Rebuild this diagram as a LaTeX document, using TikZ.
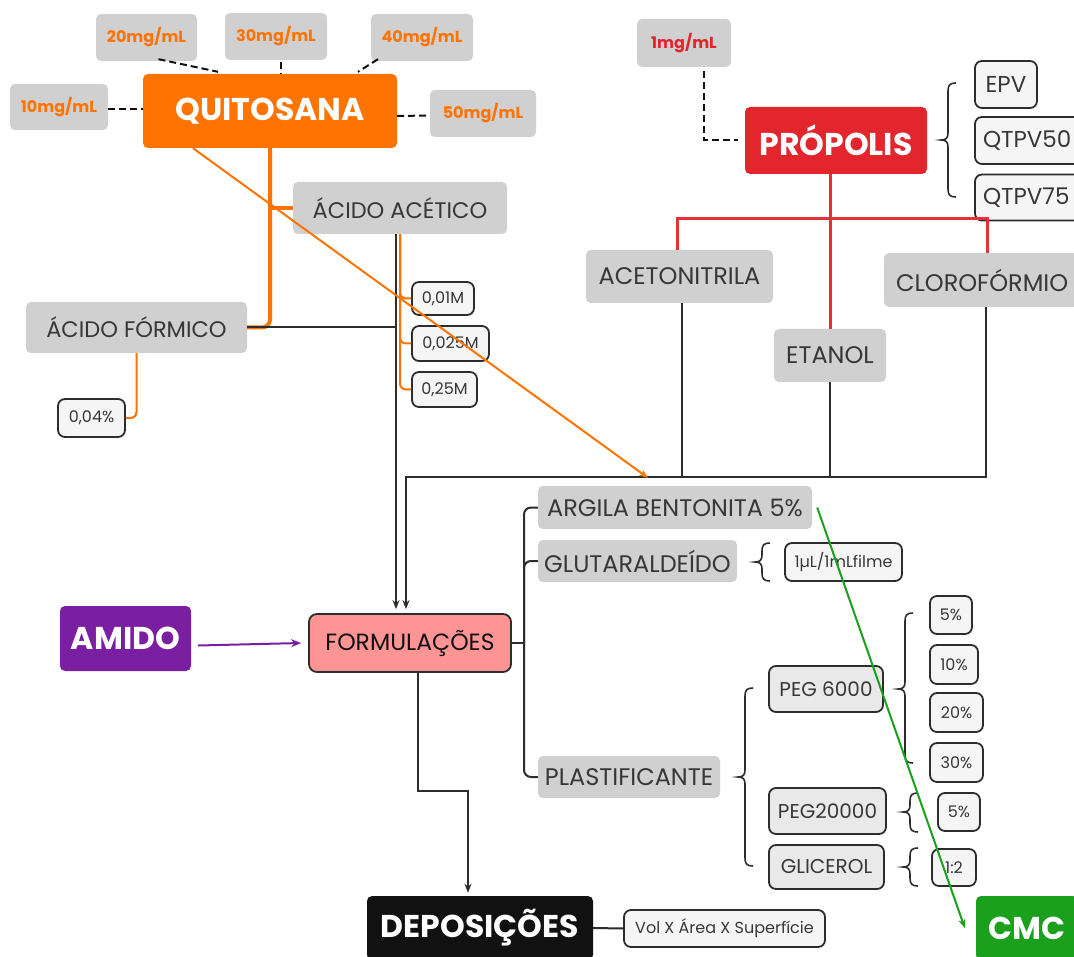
\documentclass[tikz,border=0pt]{standalone}
\usepackage{fontspec}
\setmainfont{Poppins}
\usetikzlibrary{arrows.meta,calc}
\definecolor{qor}{RGB}{255,115,0}
\definecolor{pred}{RGB}{227,38,45}
\definecolor{lred}{RGB}{229,50,56}
\definecolor{ppl}{RGB}{123,31,162}
\definecolor{grn}{RGB}{27,160,30}
\definecolor{salmon}{RGB}{255,148,148}
\definecolor{boxgray}{RGB}{208,208,208}
\definecolor{boxlight}{RGB}{245,245,245}
\definecolor{bordk}{RGB}{45,45,45}
\definecolor{txtgray}{RGB}{55,55,55}
\definecolor{blk}{RGB}{17,17,17}
\tikzset{
  base/.style={rectangle, rounded corners=5pt, inner sep=0pt, anchor=center},
  gbox/.style={base, fill=boxgray, text=txtgray, font=\fontsize{24}{28}\selectfont},
  abox/.style={gbox, font=\fontsize{22.5}{26}\selectfont},
  lbox/.style={base, fill=boxlight, draw=bordk, line width=1.8pt, rounded corners=7pt, text=txtgray, font=\fontsize{16}{19}\selectfont},
  mbox/.style={base, fill=boxlight, draw=bordk, line width=1.8pt, rounded corners=7pt, text=txtgray, font=\fontsize{23}{26}\selectfont},
  pbox/.style={mbox, fill=boxlight!95!black, font=\fontsize{20}{24}\selectfont},
  mgbox/.style={base, fill=boxgray, text=qor, font=\bfseries\fontsize{16}{19}\selectfont},
  big/.style={base, text=white, font=\bfseries\fontsize{31.5}{36}\selectfont},
  dsh/.style={draw=blk, line width=2pt, dash pattern=on 7pt off 4pt},
  orth/.style={draw=qor, line width=4pt},
  ortn/.style={draw=qor, line width=2pt},
  bl/.style={draw=bordk, line width=2pt},
  rl/.style={draw=lred, line width=3pt},
  brc/.style={draw=bordk, line width=1.6pt},
  tip/.style={-{Stealth[length=9pt,width=7pt]}},
}
\newcommand\mybrace[4]{%
\draw[brc] ({#1+8},#2) .. controls ({#1+2},#2) and (#1,{#2+2}) .. (#1,{#2+8}) -- (#1,{#3-7}) .. controls (#1,{#3-2}) and ({#1-2},#3) .. ({#1-7},#3) .. controls ({#1-2},#3) and (#1,{#3+2}) .. (#1,{#3+7}) -- (#1,{#4-8}) .. controls (#1,{#4-2}) and ({#1+2},#4) .. ({#1+8},#4);}
\begin{document}
\begin{tikzpicture}[x=1pt,y=-1pt]
\clip (0,0) rectangle (1074,957);
\fill[white] (0,0) rectangle (1074,957);

% ---------- QUITOSANA cluster
\node[big, fill=qor, minimum width=254pt, minimum height=74pt] (quit) at (270,111) {QUITOSANA};
\node[mgbox, minimum width=98pt, minimum height=46pt] (q10) at (59,107) {10mg/mL};
\node[mgbox, minimum width=101pt, minimum height=47pt] (q20) at (146.5,37.5) {20mg/mL};
\node[mgbox, minimum width=102pt, minimum height=47pt] (q30) at (276,36.5) {30mg/mL};
\node[mgbox, minimum width=102pt, minimum height=47pt] (q40) at (422,37.5) {40mg/mL};
\node[mgbox, minimum width=106pt, minimum height=47pt] (q50) at (483,113.5) {50mg/mL};

\draw[dsh] ([yshift=-2pt]q10.east) -- ([yshift=2pt]quit.west);
\draw[dsh] ([xshift=12pt,yshift=2pt]q20.south) -- ([xshift=-52pt,yshift=2pt]quit.north);
\draw[dsh] ([xshift=5pt,yshift=-2pt]q30.south) -- ([xshift=11pt]quit.north);
\draw[dsh] ([xshift=-44pt,yshift=2pt]q40.south) -- ([xshift=88pt,yshift=2pt]quit.north);
\draw[dsh] ([yshift=-5pt]quit.east) -- ([yshift=-2pt]q50.west);

% ---------- acids
\node[abox, minimum width=214pt, minimum height=52pt] (acet) at (400,208) {ÁCIDO ACÉTICO};
\node[abox, minimum width=221pt, minimum height=51pt] (form) at (136.5,327.5) {ÁCIDO FÓRMICO};
\node[lbox, minimum width=62pt, minimum height=33pt] (m1) at (443,298.5) {0,01M};
\node[lbox, minimum width=77pt, minimum height=35pt] (m2) at (450.5,343.5) {0,025M};
\node[lbox, minimum width=65pt, minimum height=35pt] (m3) at (444.5,389.5) {0,25M};
\node[lbox, minimum width=67pt, minimum height=38pt] (p04) at (91.5,418) {0,04\%};

\draw[orth, rounded corners=8pt] (quit.south) |- (form.east);
\draw[orth] (quit.south |- acet.west) -- (acet.west);
\draw[ortn, rounded corners=6pt] (acet.south) |- (m1.west);
\draw[ortn, rounded corners=6pt] (acet.south) |- (m2.west);
\draw[ortn, rounded corners=6pt] (acet.south) |- (m3.west);
\draw[ortn, rounded corners=6pt] (form.south) |- (p04.east);

% ---------- PROPOLIS cluster
\node[big, fill=pred, minimum width=182pt, minimum height=67pt] (prop) at (836,140.5) {PRÓPOLIS};
\node[mgbox, text=pred, minimum width=94pt, minimum height=48pt] (p1) at (684,43) {1mg/mL};
\draw[dsh] ([xshift=20pt,yshift=-4pt]p1.south) |- ([xshift=-7pt]prop.west);
\node[mbox, minimum width=62pt, minimum height=47pt] (epv) at (1006,84.5) {EPV};
\node[mbox, minimum width=122pt, minimum height=47pt, text width=106pt, inner xsep=8pt, align=left] (qt50) at (1036,140.5) {QTPV50};
\node[mbox, minimum width=122pt, minimum height=46pt, text width=106pt, inner xsep=8pt, align=left] (qt75) at (1036,197.5) {QTPV75};
\mybrace{948}{83}{140}{197}

\node[gbox, minimum width=187pt, minimum height=53pt] (acn) at (679.5,276.5) {ACETONITRILA};
\node[gbox, minimum width=194pt, minimum height=54pt, text width=178pt, inner xsep=8pt, align=left] (clo) at (981,280) {\hspace*{4pt}CLOROFÓRMIO};
\node[gbox, minimum width=112pt, minimum height=53pt] (etanol) at (830,355.5) {ETANOL};

\draw[rl] (prop.south -| etanol.north) -- (etanol.north);
\draw[rl] ([xshift=-2pt]acn.north) -- ++(0,-31) -| ([xshift=6pt]clo.north);

% ---------- FORMULACOES
\node[base, fill=salmon, draw=bordk, line width=1.8pt, rounded corners=8pt, text=blk, font=\fontsize{23.5}{27}\selectfont, minimum width=202pt, minimum height=58pt] (formul) at (410,643) {FORMULAÇÕES};
\node[big, fill=ppl, minimum width=131pt, minimum height=65pt] (amido) at (125.5,638.5) {AMIDO};
\node[big, fill=blk, minimum width=226pt, minimum height=64pt] (depos) at (480,928) {DEPOSIÇÕES};
\node[big, fill=grn, minimum width=102pt, minimum height=64pt] (cmc) at (1027,928) {CMC};
\node[lbox, minimum width=201pt, minimum height=37pt] (vol) at (724.5,928.5) {Vol X Área X Superfície};

% black connectors into FORMULACOES
\coordinate (busL) at (406,477);
\draw[bl, tip] ([xshift=-4pt]acet.south) -- ([xshift=-14pt,yshift=4pt]formul.north);
\draw[bl] (form.east) -- ([xshift=-14pt]formul.north |- form.east);
\draw[bl, tip] ([xshift=5pt]clo.south) |- (busL) -- ([xshift=-4pt,yshift=4pt]formul.north);
\draw[bl] ([xshift=2pt]acn.south) -- ([xshift=2pt]acn.south |- busL);
\draw[bl] (etanol.south) -- (etanol.south |- busL);

\draw[draw=ppl, line width=2pt, -{Stealth[length=10pt,width=8pt]}] ([xshift=7pt,yshift=-7pt]amido.east) -- ([xshift=-7pt]formul.west);
\draw[bl, tip] ([xshift=8pt]formul.south) -- ++(0,118) -| ([xshift=-12pt,yshift=3pt]depos.north);
\draw[bl] (depos.east) -- (vol.west);

% ---------- right tree
\node[gbox, minimum width=274pt, minimum height=43pt] (argila) at (675,507.5) {ARGILA BENTONITA 5\%};
\node[gbox, minimum width=199pt, minimum height=42pt] (glut) at (637.5,561) {GLUTARALDEÍDO};
\node[gbox, minimum width=182pt, minimum height=42pt] (plast) at (629,777) {PLASTIFICANTE};
\node[lbox, minimum width=117pt, minimum height=38pt] (ul) at (843.5,562) {1µL/1mLfilme};
\mybrace{762}{543}{562}{581}

\coordinate (tr) at (524,643);
\draw[bl] (formul.east) -- (tr);
\draw[bl, rounded corners=7pt] (tr) |- (argila.west);
\draw[bl, rounded corners=7pt] (tr) |- (glut.west);
\draw[bl, rounded corners=7pt] (tr) |- (plast.west);

\node[pbox, minimum width=114pt, minimum height=46pt] (peg6) at (826,689) {PEG 6000};
\node[pbox, minimum width=117pt, minimum height=46pt] (peg2) at (827.5,811) {PEG20000};
\node[pbox, minimum width=115pt, minimum height=44pt] (glic) at (826.5,867) {GLICEROL};
\mybrace{745}{688}{777}{866}

\node[lbox, minimum width=42pt, minimum height=38pt] (c5) at (951,615) {5\%};
\node[lbox, minimum width=48pt, minimum height=39pt] (c10) at (954,664.5) {10\%};
\node[lbox, minimum width=53pt, minimum height=39pt] (c20) at (956.5,712.5) {20\%};
\node[lbox, minimum width=53pt, minimum height=39pt] (c30) at (956.5,762.5) {30\%};
\node[lbox, minimum width=42pt, minimum height=38pt] (d5) at (959,812) {5\%};
\node[lbox, minimum width=44pt, minimum height=37pt] (g12) at (954,867.5) {1:2};
\mybrace{905}{613}{689}{763}
\mybrace{910}{793}{812}{832}
\mybrace{910}{848}{867}{886}

% ---------- long arrows
\draw[ortn, -{Stealth[length=9pt,width=7pt]}] ([xshift=-77pt]quit.south) -- ([xshift=-27pt,yshift=8pt]argila.north);
\draw[draw=grn, line width=2pt, -{Stealth[length=9pt,width=7pt]}] ([xshift=5pt]argila.east) -- ([xshift=-11pt]cmc.west);
\end{tikzpicture}
\end{document}
